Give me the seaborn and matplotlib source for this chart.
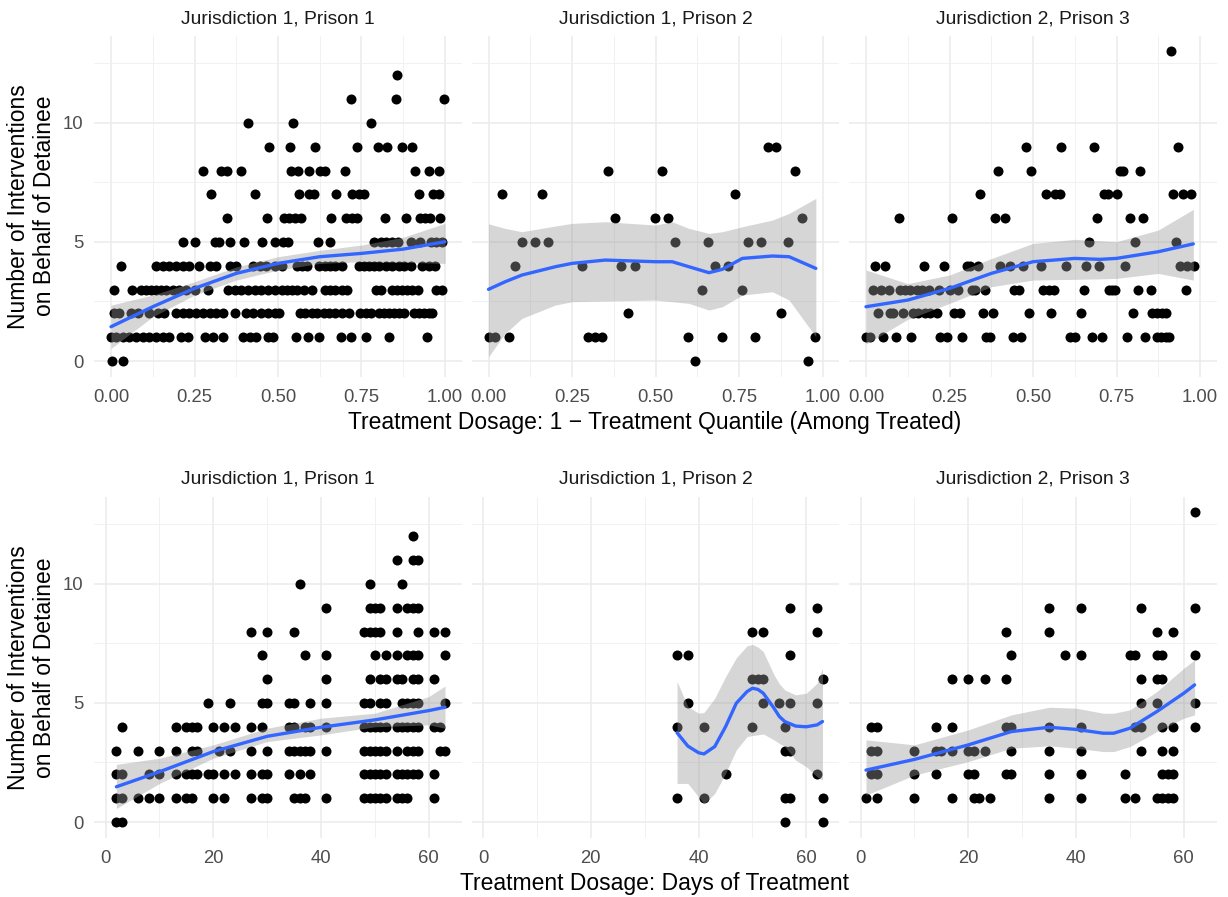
import numpy as np
import pandas as pd
import seaborn as sns
import matplotlib.pyplot as plt

# facet titles (same in both rows)
facets = ["Jurisdiction 1, Prison 1", "Jurisdiction 1, Prison 2", "Jurisdiction 2, Prison 3"]

# top row: treatment dosage (1 - quantile) of each detainee, row index = number of interventions
quant_p1 = [
    [0.002, 0.035],
    [0.0, 0.015, 0.035, 0.055, 0.075, 0.095, 0.115, 0.135, 0.155, 0.175, 0.21, 0.23, 0.28, 0.305,
     0.335, 0.395, 0.415, 0.435, 0.47, 0.485, 0.554, 0.589, 0.622, 0.69, 0.72, 0.762, 0.832, 0.947],
    [0.008, 0.025, 0.06, 0.08, 0.115, 0.14, 0.16, 0.195, 0.215, 0.235, 0.255, 0.275, 0.295, 0.315,
     0.335, 0.37, 0.405, 0.425, 0.45, 0.47, 0.49, 0.502, 0.567, 0.582, 0.602, 0.617, 0.637, 0.652,
     0.672, 0.692, 0.712, 0.747, 0.762, 0.777, 0.802, 0.817, 0.832, 0.847, 0.862, 0.877, 0.907,
     0.922, 0.937, 0.952, 0.962],
    [0.008, 0.062, 0.09, 0.105, 0.12, 0.135, 0.15, 0.165, 0.185, 0.205, 0.225, 0.25, 0.29, 0.35,
     0.37, 0.39, 0.41, 0.43, 0.45, 0.47, 0.49, 0.512, 0.527, 0.542, 0.557, 0.577, 0.602, 0.642,
     0.657, 0.672, 0.692, 0.707, 0.792, 0.807, 0.842, 0.857, 0.872, 0.887, 0.902, 0.92, 0.972, 0.992],
    [0.03, 0.135, 0.155, 0.175, 0.195, 0.215, 0.235, 0.262, 0.295, 0.315, 0.355, 0.375, 0.425,
     0.445, 0.465, 0.49, 0.512, 0.557, 0.572, 0.587, 0.622, 0.642, 0.657, 0.672, 0.692, 0.742,
     0.757, 0.772, 0.787, 0.802, 0.822, 0.842, 0.862, 0.877, 0.897, 0.932, 0.952, 0.97],
    [0.216, 0.25, 0.31, 0.322, 0.356, 0.398, 0.452, 0.49, 0.514, 0.53, 0.62, 0.657, 0.787, 0.807,
     0.822, 0.84, 0.86, 0.897, 0.924, 0.957, 0.972, 0.992],
    [0.348, 0.466, 0.517, 0.534, 0.552, 0.57, 0.66, 0.704, 0.722, 0.737, 0.82, 0.882, 0.924, 0.94,
     0.954, 0.984],
    [0.30, 0.432, 0.564, 0.594, 0.609, 0.674, 0.722, 0.742, 0.757, 0.922, 0.964, 0.982],
    [0.276, 0.328, 0.348, 0.388, 0.54, 0.56, 0.592, 0.627, 0.64, 0.702, 0.909, 0.952, 0.982],
    [0.472, 0.536, 0.61, 0.738, 0.80, 0.827, 0.872, 0.902],
    [0.41, 0.546, 0.777],
    [0.718, 0.854, 0.998],
    [0.857],
]
quant_p2 = [
    [0.618, 0.958],
    [0.0, 0.02, 0.06, 0.298, 0.319, 0.34, 0.598, 0.698, 0.798, 0.977],
    [0.418, 0.877],
    [0.638, 0.758],
    [0.079, 0.279, 0.398, 0.439, 0.678, 0.717],
    [0.099, 0.139, 0.179, 0.558, 0.658, 0.778, 0.817, 0.897],
    [0.379, 0.499, 0.538, 0.938],
    [0.039, 0.159, 0.738],
    [0.359, 0.519, 0.918],
    [0.836, 0.86],
]
quant_p3 = [
    [],
    [0.0, 0.012, 0.052, 0.09, 0.135, 0.222, 0.242, 0.288, 0.36, 0.372, 0.44, 0.464, 0.612, 0.627,
     0.676, 0.706, 0.782, 0.836, 0.872, 0.884, 0.897, 0.907],
    [0.037, 0.072, 0.082, 0.112, 0.14, 0.157, 0.177, 0.192, 0.214, 0.262, 0.282, 0.35, 0.38, 0.487,
     0.554, 0.645, 0.798, 0.857, 0.872, 0.885, 0.897],
    [0.02, 0.044, 0.069, 0.102, 0.117, 0.132, 0.152, 0.167, 0.19, 0.22, 0.25, 0.274, 0.317, 0.327,
     0.357, 0.442, 0.457, 0.53, 0.547, 0.562, 0.652, 0.727, 0.737, 0.747, 0.814, 0.852, 0.957],
    [0.028, 0.058, 0.174, 0.235, 0.302, 0.312, 0.334, 0.402, 0.432, 0.47, 0.524, 0.6, 0.66, 0.699,
     0.775, 0.94, 0.962, 0.982],
    [0.669, 0.806, 0.927],
    [0.098, 0.258, 0.387, 0.417, 0.692, 0.79, 0.829],
    [0.342, 0.538, 0.567, 0.58, 0.714, 0.724, 0.752, 0.919, 0.949, 0.974],
    [0.395, 0.493, 0.76, 0.77, 0.82],
    [0.478, 0.584, 0.684, 0.935],
    [], [], [],
    [0.912],
]

# bottom row: days of treatment, row index = number of interventions
days_p1 = [
    [2, 3],
    [2, 3, 6, 8, 10, 13, 15, 16, 20, 22, 27, 29, 30, 35, 36, 37, 41, 48, 49, 50, 51, 52, 54, 55, 56, 61],
    [2, 3, 8, 10, 13, 15, 16, 17, 19, 20, 22, 24, 27, 29, 30, 34, 36, 38, 48, 49, 50, 51, 52, 54, 55,
     56, 57, 58, 61],
    [2, 6, 10, 13, 16, 17, 21, 23, 27, 30, 34, 35, 36, 37, 38, 41, 48, 49, 50, 51, 52, 54, 56, 57, 58,
     62, 63],
    [3, 13, 15, 16, 17, 20, 22, 24, 27, 29, 34, 35, 37, 38, 41, 48, 49, 50, 51, 52, 54, 55, 56, 57, 58,
     61, 62],
    [19, 23, 29, 30, 34, 35, 38, 41, 48, 49, 51, 52, 55, 56, 57, 58, 63],
    [30, 41, 49, 51, 52, 54, 55, 57, 58, 61],
    [29, 37, 41, 50, 52, 54, 56, 57, 58, 63],
    [27, 30, 35, 48, 49, 50, 51, 54, 58, 61, 63],
    [41, 49, 50, 51, 54, 56, 57, 58],
    [36, 49, 55],
    [54, 57, 58],
    [57],
]
days_p2 = [
    [56, 63],
    [36, 41, 56, 57, 63],
    [45, 62],
    [56, 57],
    [36, 41, 50, 56],
    [38, 52, 55, 57, 62],
    [50, 51, 52, 63],
    [36, 38, 57],
    [50, 52, 62],
    [57, 62],
]
days_p3 = [
    [],
    [1, 3, 10, 17, 21, 22, 24, 35, 41, 49, 51, 55, 56, 57, 58],
    [2, 3, 10, 14, 20, 21, 27, 28, 35, 41, 49, 56, 57, 58],
    [2, 3, 10, 14, 15, 17, 20, 21, 23, 28, 35, 41, 52, 56, 58],
    [2, 3, 14, 17, 27, 28, 35, 41, 51, 52, 56, 58, 62],
    [52, 55, 62],
    [17, 20, 23, 27, 52, 55, 56],
    [28, 38, 41, 50, 51, 55, 56, 62],
    [27, 35, 55, 58],
    [35, 41, 52, 62],
    [], [], [],
    [62],
]

# loess smooths (fit, lower, upper)
sm_q1_x = [0.0, 0.125, 0.25, 0.375, 0.5, 0.625, 0.75, 0.875, 1.0]
sm_q1_fit = [1.44, 2.28, 3.05, 3.68, 4.1, 4.38, 4.52, 4.7, 5.01]
sm_q1_lo = [0.53, 1.86, 2.77, 3.4, 3.82, 4.1, 4.17, 4.15, 4.1]
sm_q1_hi = [2.35, 2.77, 3.33, 3.95, 4.38, 4.65, 4.87, 5.2, 5.78]

sm_q2_x = [0.0, 0.05, 0.1, 0.2, 0.25, 0.35, 0.5, 0.55, 0.6, 0.66, 0.7, 0.76, 0.85, 0.9, 0.98]
sm_q2_fit = [3.01, 3.33, 3.61, 3.96, 4.1, 4.24, 4.17, 4.17, 3.96, 3.71, 3.85, 4.31, 4.41, 4.38, 3.89]
sm_q2_lo = [0.18, 1.16, 1.79, 2.35, 2.49, 2.52, 2.56, 2.49, 2.42, 2.14, 2.28, 2.77, 2.91, 2.56, 1.02]
sm_q2_hi = [5.76, 5.57, 5.43, 5.67, 5.78, 5.85, 5.71, 5.85, 5.57, 5.36, 5.43, 5.64, 5.92, 6.2, 6.83]

sm_q3_x = [0.0, 0.125, 0.25, 0.375, 0.5, 0.625, 0.7, 0.75, 0.875, 0.98]
sm_q3_fit = [2.28, 2.56, 3.05, 3.68, 4.17, 4.31, 4.27, 4.31, 4.59, 4.92]
sm_q3_lo = [0.71, 1.75, 2.42, 3.12, 3.4, 3.43, 3.45, 3.47, 3.68, 3.4]
sm_q3_hi = [3.82, 3.25, 3.61, 4.3, 4.94, 5.11, 5.05, 5.01, 5.5, 6.37]

sm_d1_x = [2, 10, 20, 30, 40, 50, 60, 63]
sm_d1_fit = [1.48, 2.11, 2.96, 3.6, 3.98, 4.29, 4.68, 4.82]
sm_d1_lo = [0.57, 1.62, 2.68, 3.38, 3.66, 4.0, 4.08, 3.94]
sm_d1_hi = [2.42, 2.68, 3.24, 3.94, 4.36, 4.57, 5.27, 5.71]

sm_d2_x = [36, 38, 40, 41, 43, 45, 47, 49, 50, 51, 52, 54, 55, 56, 58, 60, 62, 63]
sm_d2_fit = [3.75, 3.19, 2.91, 2.86, 3.17, 4.0, 4.99, 5.48, 5.62, 5.57, 5.41, 4.78, 4.43, 4.22,
             4.03, 4.0, 4.08, 4.22]
sm_d2_lo = [1.62, 1.62, 1.06, 0.76, 1.2, 2.04, 3.03, 3.59, 3.63, 3.66, 3.7, 3.45, 3.3, 3.17,
            2.6, 2.32, 1.9, 1.76]
sm_d2_hi = [5.9, 4.85, 4.57, 4.6, 5.2, 6.1, 6.9, 7.4, 7.46, 7.35, 7.16, 6.18, 5.8, 5.55,
            5.34, 5.41, 5.83, 6.46]

sm_d3_x = [1, 10, 20, 28, 35, 40, 45, 47, 50, 55, 60, 62]
sm_d3_fit = [2.18, 2.63, 3.24, 3.8, 3.98, 3.89, 3.73, 3.73, 3.94, 4.64, 5.41, 5.76]
sm_d3_lo = [1.13, 1.97, 2.54, 3.1, 3.2, 3.1, 2.96, 2.96, 3.17, 3.8, 4.36, 4.5]
sm_d3_hi = [3.45, 3.24, 3.87, 4.5, 4.82, 4.78, 4.57, 4.57, 4.71, 5.48, 6.46, 6.81]


def long_form(rows):
    xs, ys = [], []
    for count, row in enumerate(rows):
        xs += list(row)
        ys += [count] * len(row)
    return pd.DataFrame({"x": xs, "y": ys})


sns.set_theme(style="white")
plt.rcParams["font.family"] = ["Liberation Sans", "DejaVu Sans"]

W, H = 1228, 897
fig = plt.figure(figsize=(W / 100, H / 100), dpi=100)

col_left = [94.3, 471.8, 849.3]
panel_w = 367.4
row_top = [36.0, 497.0]
panel_h = 340.5

rows = [
    dict(points=[quant_p1, quant_p2, quant_p3],
         smooth=[(sm_q1_x, sm_q1_fit, sm_q1_lo, sm_q1_hi),
                 (sm_q2_x, sm_q2_fit, sm_q2_lo, sm_q2_hi),
                 (sm_q3_x, sm_q3_fit, sm_q3_lo, sm_q3_hi)],
         xlim=(-0.05, 1.05), major=[0, 0.25, 0.5, 0.75, 1.0],
         minor=[0.125, 0.375, 0.625, 0.875],
         labels=["0.00", "0.25", "0.50", "0.75", "1.00"],
         title="Treatment Dosage: 1 \u2212 Treatment Quantile (Among Treated)"),
    dict(points=[days_p1, days_p2, days_p3],
         smooth=[(sm_d1_x, sm_d1_fit, sm_d1_lo, sm_d1_hi),
                 (sm_d2_x, sm_d2_fit, sm_d2_lo, sm_d2_hi),
                 (sm_d3_x, sm_d3_fit, sm_d3_lo, sm_d3_hi)],
         xlim=(-2.1, 66.1), major=[0, 20, 40, 60], minor=[10, 30, 50],
         labels=["0", "20", "40", "60"],
         title="Treatment Dosage: Days of Treatment"),
]

for r, spec in enumerate(rows):
    for c in range(3):
        ax = fig.add_axes([col_left[c] / W, 1 - (row_top[r] + panel_h) / H,
                           panel_w / W, panel_h / H])
        df = long_form(spec["points"][c])
        sns.scatterplot(data=df, x="x", y="y", color="black", s=52, linewidth=0,
                        ax=ax, zorder=2)
        sx, fit, lo, hi = spec["smooth"][c]
        ax.fill_between(sx, lo, hi, color="#999999", alpha=0.4, linewidth=0, zorder=3)
        sns.lineplot(x=sx, y=fit, color="#3366FF", linewidth=2.4, ax=ax, zorder=4)

        ax.set_xlim(*spec["xlim"])
        ax.set_ylim(-0.65, 13.65)
        ax.set_xticks(spec["major"])
        ax.set_xticks(spec["minor"], minor=True)
        ax.set_xticklabels(spec["labels"])
        ax.set_yticks([0, 5, 10])
        ax.set_yticks([2.5, 7.5, 12.5], minor=True)
        if c > 0:
            ax.set_yticklabels([])
        ax.grid(which="major", color="#EBEBEB", linewidth=1.1)
        ax.grid(which="minor", color="#EFEFEF", linewidth=0.6)
        ax.set_axisbelow(True)
        for s in ax.spines.values():
            s.set_visible(False)
        ax.tick_params(axis="both", which="both", length=0, labelsize=13.3,
                       labelcolor="#4D4D4D")
        ax.tick_params(axis="x", pad=9)
        ax.tick_params(axis="y", pad=8)
        ax.set_xlabel("")
        ax.set_ylabel("")
        ax.text(0.5, 1 + 17.5 / panel_h, facets[c], transform=ax.transAxes,
                ha="center", va="center", fontsize=13.9, color="#1A1A1A")

    # shared axis titles for the row
    fig.text(655 / W, 1 - (row_top[r] + panel_h + 46) / H, spec["title"],
             ha="center", va="center", fontsize=16.5, color="black")
    fig.text(31.5 / W, 1 - (row_top[r] + panel_h / 2) / H,
             "Number of Interventions\non Behalf of Detainee",
             rotation=90, ha="center", va="center", fontsize=16.5,
             multialignment="center", color="black")

fig.savefig("out.png", dpi=100, facecolor="white")
